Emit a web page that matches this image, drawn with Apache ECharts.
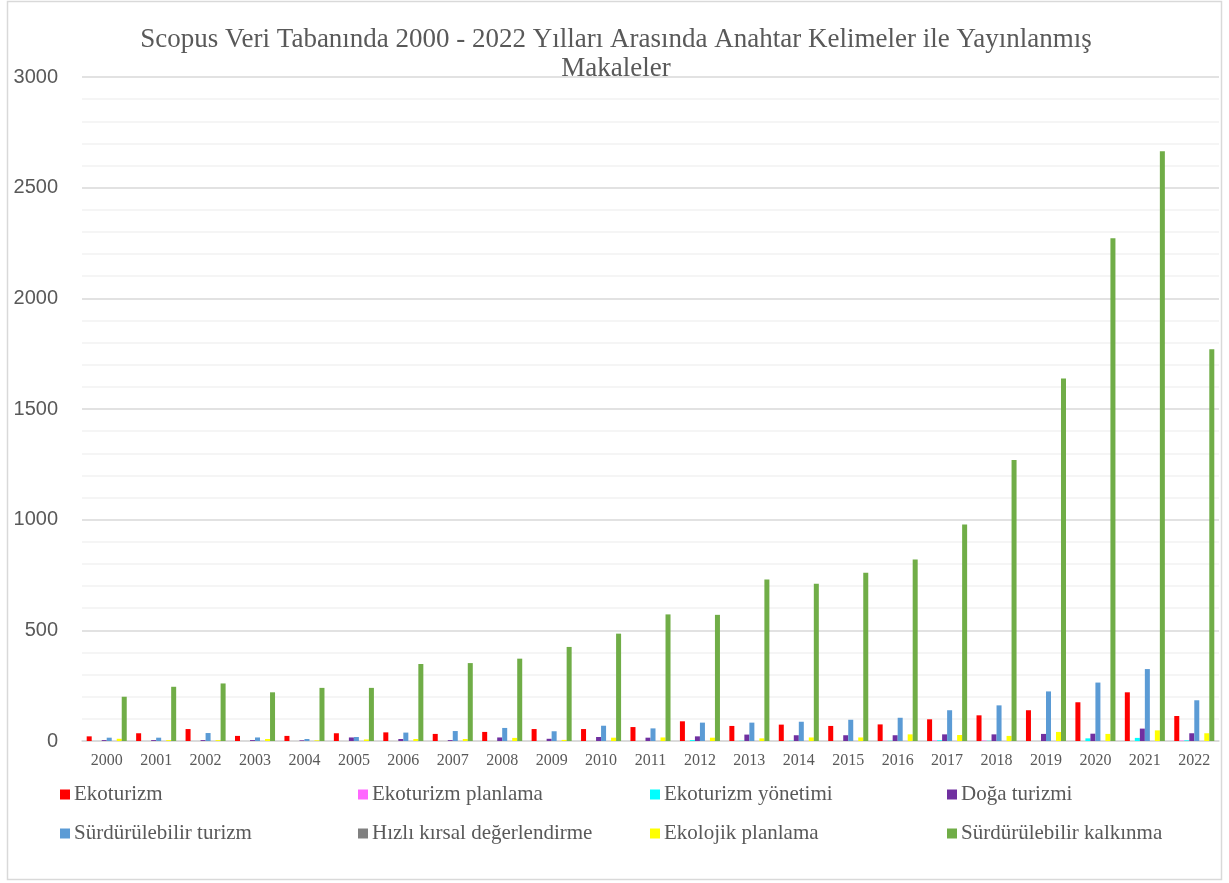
<!DOCTYPE html>
<html>
<head>
<meta charset="utf-8">
<script src="https://cdn.jsdelivr.net/npm/echarts@6/dist/echarts.min.js"></script>
<style>html,body{margin:0;padding:0;background:#fff;}#c{width:1229px;height:883px;}</style>
</head>
<body>
<div id="c"></div>
<script>
const years = ['2000','2001','2002','2003','2004','2005','2006','2007','2008','2009','2010','2011','2012','2013','2014','2015','2016','2017','2018','2019','2020','2021','2022'];
const ekoturizm =            [21,35,54,23,23,35,39,32,41,54,54,63,89,68,74,68,75,98,116,139,175,220,113];
const ekoturizmPlanlama =    [0,0,0,0,0,0,0,0,0,0,0,0,0,0,0,0,1,2,2,0,0,0,2];
const ekoturizmYonetimi =    [0,0,0,0,0,0,0,0,0,0,0,0,4,1,1,0,1,3,1,0,12,14,3];
const dogaTurizmi =          [4,4,4,4,3,16,9,4,16,10,18,15,21,29,26,26,26,30,30,32,33,56,35];
const surdurulebilirTurizm = [15,15,36,16,9,18,38,45,59,44,69,57,83,83,87,96,105,139,161,224,264,325,184];
const hizliKirsal =          [0,0,0,0,0,0,0,0,0,0,0,0,0,0,0,0,0,0,0,0,0,0,0];
const ekolojikPlanlama =     [10,4,4,9,3,7,9,9,14,5,15,16,15,12,16,16,30,27,23,41,32,48,35];
const surdurulebilirKalkinma=[200,245,260,220,240,240,348,352,372,425,485,572,570,730,710,760,820,978,1270,1638,2272,2665,1770];
const yTicks = [0,500,1000,1500,2000,2500,3000];

const names = ['Ekoturizm','Ekoturizm planlama','Ekoturizm yönetimi','Doğa turizmi','Sürdürülebilir turizm','Hızlı kırsal değerlendirme','Ekolojik planlama','Sürdürülebilir kalkınma'];
const datas = [ekoturizm,ekoturizmPlanlama,ekoturizmYonetimi,dogaTurizmi,surdurulebilirTurizm,hizliKirsal,ekolojikPlanlama,surdurulebilirKalkinma];
const colors = ['#FF0000','#FF66FF','#00FFFF','#7030A0','#5B9BD5','#808080','#FFFF00','#70AD47'];

const legendPos = [[60,784],[358,784],[650,784],[947,784],[60,823],[358,823],[650,823],[947,823]];
const serif = '"Liberation Serif","DejaVu Serif",serif';

const chart = echarts.init(document.getElementById('c'), null, {renderer:'canvas'});
chart.setOption({
  animation:false,
  color: colors,
  title:{
    text:'Scopus Veri Tabanında 2000 - 2022 Yılları Arasında Anahtar Kelimeler ile Yayınlanmış\nMakaleler',
    left:611, top:20, textAlign:'center',
    textStyle:{fontFamily:serif, fontSize:27, fontWeight:'normal', color:'#595959', lineHeight:29}
  },
  graphic:[{type:'rect', shape:{x:7.5,y:1.5,width:1214,height:878}, style:{fill:'none',stroke:'#d9d9d9',lineWidth:1.5}, silent:true}],
  legend: names.map((n,i)=>({
    data:[n], left:legendPos[i][0], top:legendPos[i][1], padding:0,
    itemWidth:10, itemHeight:10, itemGap:4,
    icon:'rect',
    textStyle:{fontFamily:serif, fontSize:21, color:'#595959', padding:[0,0,0,-1]}
  })),
  grid:{left:82, right:10, top:77, bottom:142},
  xAxis:{
    type:'category', data:years,
    axisLine:{lineStyle:{color:'#d9d9d9', width:1.5}},
    axisTick:{show:false},
    axisLabel:{fontFamily:serif, fontSize:16, color:'#595959', margin:12}
  },
  yAxis:{
    type:'value', min:0, max:3000, interval:500,
    axisLine:{show:false}, axisTick:{show:false},
    axisLabel:{fontFamily:'"Liberation Sans",Arial,sans-serif', fontSize:20, color:'#595959', margin:24,
      formatter: v => String(v)},
    splitLine:{lineStyle:{color:'#d9d9d9', width:1.5}},
    minorTick:{show:false, splitNumber:5},
    minorSplitLine:{show:true, lineStyle:{color:'#f2f2f2', width:1.5}}
  },
  series: names.map((n,i)=>({
    name:n, type:'bar', data:datas[i], barGap:'0%', barCategoryGap:'19%',
    itemStyle:{color:colors[i]}
  }))
});
</script>
</body>
</html>
